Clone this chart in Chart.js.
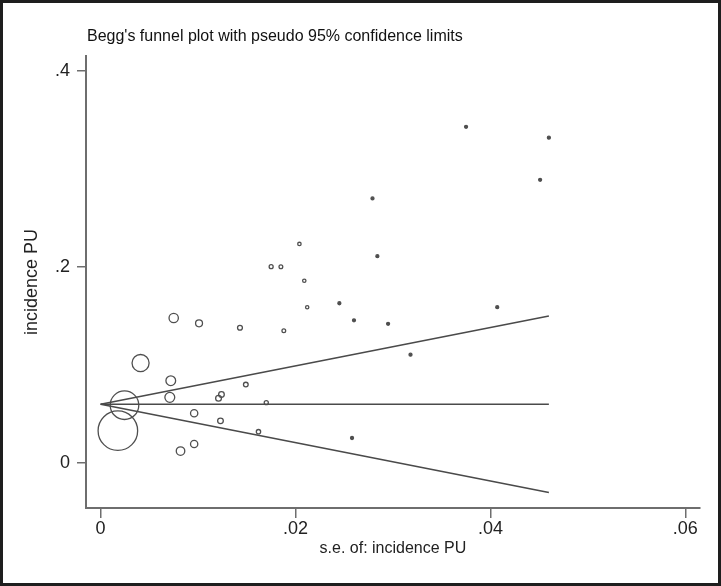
<!DOCTYPE html>
<html lang="en">
<head>
<meta charset="UTF-8">
<title>Begg's funnel plot</title>
<script src="https://cdn.jsdelivr.net/npm/chart.js"></script>
<style>
  html, body { margin: 0; padding: 0; background: #fff; }
</style>
</head>
<body>
<canvas id="funnel" width="721" height="586"></canvas>
<script>
// study estimates (standard error, incidence)
var seValues = [0.00177, 0.00245, 0.0041, 0.0075, 0.0101, 0.0143, 0.0072, 0.0071, 0.0121, 0.0124,
                0.0149, 0.0170, 0.0096, 0.0123, 0.0162, 0.0096, 0.0082, 0.0204, 0.0175, 0.0185,
                0.0284, 0.0209, 0.0212, 0.0245, 0.0260, 0.0295, 0.0188, 0.0318, 0.0258, 0.0375,
                0.0460, 0.0451, 0.0407, 0.0279];
var incidence = [0.033, 0.059, 0.102, 0.148, 0.1425, 0.138, 0.084, 0.067, 0.066, 0.070,
                 0.080, 0.0616, 0.0507, 0.043, 0.032, 0.0194, 0.0122, 0.2235, 0.2003, 0.2003,
                 0.211, 0.186, 0.159, 0.163, 0.1456, 0.142, 0.135, 0.1105, 0.0255, 0.343,
                 0.332, 0.289, 0.159, 0.270];

// pooled estimate and pseudo 95% limits, end points only
var limitSe = [0, 0.046];
var pooled = [0.06, 0.06];
var upperLimit = [0.06, 0.150];
var lowerLimit = [0.06, -0.030];

var xTicks = [0, 0.02, 0.04, 0.06];
var xTickLabels = ['0', '.02', '.04', '.06'];
var yTicks = [0, 0.2, 0.4];
var yTickLabels = ['0', '.2', '.4'];

var FONT = '"Liberation Sans", Arial, sans-serif';
var AXIS = '#6e6e6e';
var MARK = '#4f4f4f';

function toPoints(xs, ys) {
    return xs.map(function (x, i) { return { x: x, y: ys[i] }; });
}

function lineSet(ys) {
    return {
        type: 'line',
        data: toPoints(limitSe, ys),
        borderColor: '#4a4a4a',
        borderWidth: 1.6,
        pointRadius: 0,
        fill: false
    };
}

// marker size grows with study weight
function markerRadius(c) {
    return Math.max(1.5, 0.035 / c.raw.x);
}

// white page, dark frame and the heading
var framePlugin = {
    id: 'frame',
    beforeDraw: function (chart) {
        var ctx = chart.ctx;
        ctx.save();
        ctx.fillStyle = '#fff';
        ctx.fillRect(0, 0, chart.width, chart.height);
        ctx.restore();
    },
    afterDraw: function (chart) {
        var ctx = chart.ctx;
        ctx.save();
        ctx.strokeStyle = '#1e1e1e';
        ctx.lineWidth = 3;
        ctx.strokeRect(1.5, 1.5, chart.width - 3, chart.height - 3);
        ctx.fillStyle = '#111';
        ctx.font = '16px ' + FONT;
        ctx.textBaseline = 'alphabetic';
        ctx.fillText("Begg's funnel plot with pseudo 95% confidence limits", 87, 41);
        ctx.restore();
    }
};

new Chart(document.getElementById('funnel'), {
    type: 'scatter',
    data: {
        datasets: [
            lineSet(upperLimit),
            lineSet(pooled),
            lineSet(lowerLimit),
            {
                data: toPoints(seValues, incidence),
                showLine: false,
                backgroundColor: function (c) { return markerRadius(c) < 1.6 ? MARK : 'rgba(0,0,0,0)'; },
                borderColor: MARK,
                borderWidth: 1.3,
                pointRadius: markerRadius
            }
        ]
    },
    options: {
        responsive: false,
        animation: false,
        layout: { padding: { top: 56, right: 18, left: 0, bottom: 0 } },
        plugins: {
            legend: { display: false },
            tooltip: { enabled: false }
        },
        scales: {
            x: {
                type: 'linear',
                min: -0.0015,
                max: 0.0615,
                afterBuildTicks: function (s) { s.ticks = xTicks.map(function (v) { return { value: v }; }); },
                afterFit: function (s) { s.height = 78; },
                ticks: {
                    color: '#222',
                    font: { family: FONT, size: 18 },
                    padding: 0,
                    maxRotation: 0,
                    callback: function (v, i) { return xTickLabels[i]; }
                },
                grid: { drawOnChartArea: false, drawTicks: true, tickLength: 10, color: AXIS, lineWidth: 1.5 },
                border: { display: true, color: AXIS, width: 2 },
                title: {
                    display: true,
                    text: 's.e. of: incidence PU',
                    color: '#222',
                    font: { family: FONT, size: 16 },
                    padding: { top: 0, bottom: 28 }
                }
            },
            y: {
                type: 'linear',
                min: -0.0459,
                max: 0.4153,
                afterBuildTicks: function (s) { s.ticks = yTicks.map(function (v) { return { value: v }; }); },
                afterFit: function (s) { s.width = 86; },
                ticks: {
                    color: '#222',
                    font: { family: FONT, size: 18 },
                    padding: 7,
                    callback: function (v, i) { return yTickLabels[i]; }
                },
                grid: { drawOnChartArea: false, drawTicks: true, tickLength: 9, color: AXIS, lineWidth: 1.5 },
                border: { display: true, color: AXIS, width: 2 },
                title: {
                    display: true,
                    text: 'incidence PU',
                    color: '#222',
                    font: { family: FONT, size: 18 },
                    padding: { top: 21, bottom: 0 }
                }
            }
        }
    },
    plugins: [framePlugin]
});
</script>
</body>
</html>
